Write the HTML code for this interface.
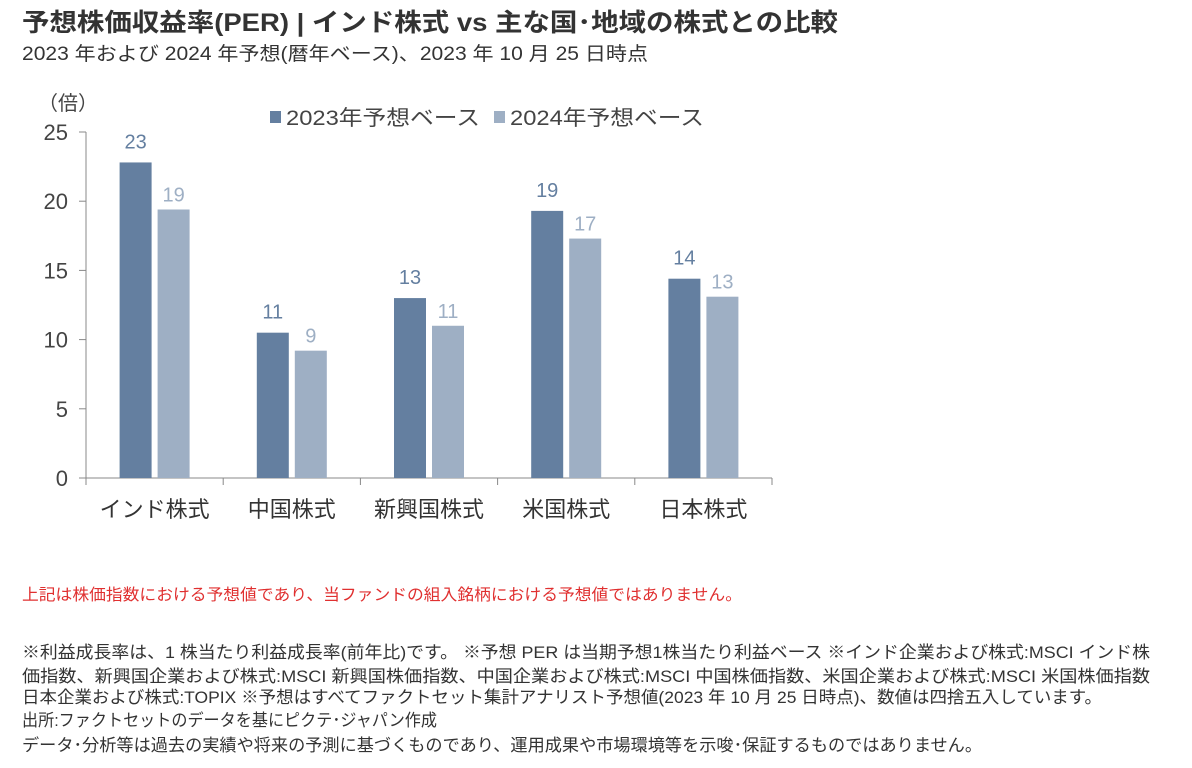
<!DOCTYPE html>
<html><head><meta charset="utf-8">
<style>
html,body{margin:0;padding:0;background:#fff;}
svg{display:block;font-family:"Liberation Sans","Noto Sans CJK JP",sans-serif;}
</style></head>
<body>
<svg id="chart" width="1192" height="768" viewBox="0 0 1192 768">
<text x="22" y="31" font-size="25" font-weight="bold" fill="#333" textLength="816" lengthAdjust="spacingAndGlyphs">予想株価収益率(PER) | インド株式 vs 主な国･地域の株式との比較</text>
<text x="22" y="60" font-size="19" fill="#333" textLength="626" lengthAdjust="spacingAndGlyphs">2023 年および 2024 年予想(暦年ベース)、2023 年 10 月 25 日時点</text>
<text x="38" y="110" font-size="20" fill="#444">（倍）</text>
<g>
<rect x="270" y="111" width="11" height="12" fill="#647fa0"/>
<text x="286" y="125" font-size="21" fill="#444" textLength="194" lengthAdjust="spacingAndGlyphs">2023年予想ベース</text>
<rect x="494" y="111" width="11" height="12" fill="#9eafc4"/>
<text x="510" y="125" font-size="21" fill="#444" textLength="194" lengthAdjust="spacingAndGlyphs">2024年予想ベース</text>
</g>
<g id="plot"></g>
<text x="22" y="600" font-size="16" fill="#e03030" textLength="720" lengthAdjust="spacingAndGlyphs">上記は株価指数における予想値であり、当ファンドの組入銘柄における予想値ではありません。</text>
<g font-size="17" fill="#333">
<text x="22" y="658" textLength="1128" lengthAdjust="spacingAndGlyphs">※利益成長率は、1 株当たり利益成長率(前年比)です。 ※予想 PER は当期予想1株当たり利益ベース ※インド企業および株式:MSCI インド株</text>
<text x="22" y="682" textLength="1128" lengthAdjust="spacingAndGlyphs">価指数、新興国企業および株式:MSCI 新興国株価指数、中国企業および株式:MSCI 中国株価指数、米国企業および株式:MSCI 米国株価指数</text>
<text x="22" y="703" textLength="1080" lengthAdjust="spacingAndGlyphs">日本企業および株式:TOPIX ※予想はすべてファクトセット集計アナリスト予想値(2023 年 10 月 25 日時点)、数値は四捨五入しています。</text>
<text x="22" y="726" textLength="415" lengthAdjust="spacingAndGlyphs">出所:ファクトセットのデータを基にピクテ･ジャパン作成</text>
<text x="22" y="751" textLength="960" lengthAdjust="spacingAndGlyphs">データ･分析等は過去の実績や将来の予測に基づくものであり、運用成果や市場環境等を示唆･保証するものではありません。</text>
</g>
</svg>
<script>
const categories = ["インド株式","中国株式","新興国株式","米国株式","日本株式"];
const values2023 = [22.8, 10.5, 13.0, 19.3, 14.4];
const values2024 = [19.4, 9.2, 11.0, 17.3, 13.1];
const labels2023 = ["23","11","13","19","14"];
const labels2024 = ["19","9","11","17","13"];
const yTicks = [0,5,10,15,20,25];

const NS = "http://www.w3.org/2000/svg";
const plot = document.getElementById("plot");
const x0 = 86, x1 = 772, yBase = 478, yTop = 132, yMax = 25;
const bandW = (x1 - x0) / categories.length;
function yScale(v){ return yBase - (v / yMax) * (yBase - yTop); }
function xCenter(i){ return x0 + bandW * (i + 0.5); }
function mk(tag, attrs){ const e = document.createElementNS(NS, tag); for (const k in attrs) e.setAttribute(k, attrs[k]); plot.appendChild(e); return e; }

let ax = mk("line", {x1:x0, y1:yTop, x2:x0, y2:yBase, stroke:"#888", "stroke-width":1});


let bx = mk("line", {x1:x0, y1:yBase, x2:x1, y2:yBase, stroke:"#888", "stroke-width":1});



yTicks.forEach(t => {
  const y = yScale(t);
  const tk = mk("line", {x1:x0-7, y1:y, x2:x0, y2:y, stroke:"#888"});
  
  
  const lb = mk("text", {x:68, y:y+8, "font-size":22, fill:"#444", "text-anchor":"end"});
  lb.textContent = t;
  
  
});
for (let i = 0; i <= categories.length; i++) {
  const x = x0 + bandW * i;
  const tk = mk("line", {x1:x, y1:yBase, x2:x, y2:yBase+7, stroke:"#888"});
  
  
}
const bw = 32, gap = 6;
categories.forEach((c, i) => {
  const cx = xCenter(i);
  const xa = cx - gap/2 - bw, xb = cx + gap/2;
  const ya = yScale(values2023[i]), yb = yScale(values2024[i]);
  const b1 = mk("rect", {x:xa, y:ya, width:bw, height:yBase-ya, fill:"#647fa0"});
  
  
  const b2 = mk("rect", {x:xb, y:yb, width:bw, height:yBase-yb, fill:"#9eafc4"});
  
  
  const l1 = mk("text", {x:xa+bw/2, y:ya-14, "font-size":20, fill:"#647fa0", "text-anchor":"middle"});
  l1.textContent = labels2023[i];
  
  
  const l2 = mk("text", {x:xb+bw/2, y:yb-8, "font-size":20, fill:"#9eafc4", "text-anchor":"middle"});
  l2.textContent = labels2024[i];
  
  
  const cl = mk("text", {x:cx, y:517, "font-size":22, fill:"#333", "text-anchor":"middle"});
  cl.textContent = c;
  
  
});
</script>
</body></html>
